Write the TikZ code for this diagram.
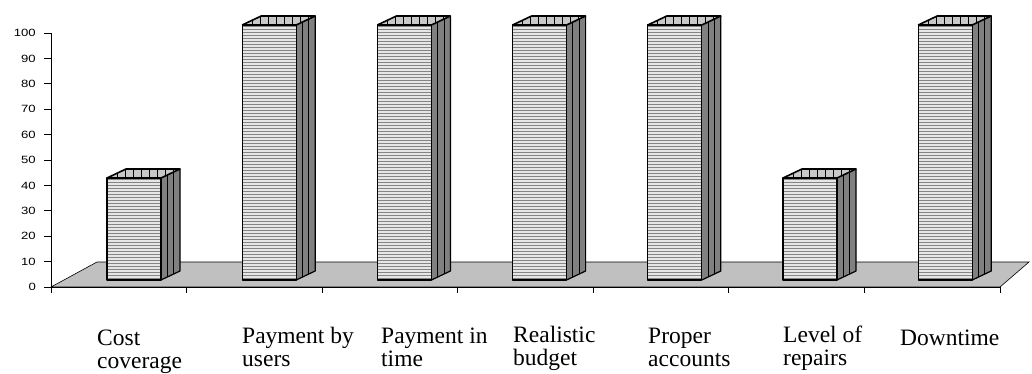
\documentclass[tikz,border=0pt]{standalone}
\usepackage{fontspec}
\setmainfont{Liberation Serif}
\newfontfamily\axisfont{Liberation Sans}
\definecolor{floorgray}{HTML}{C0C0C0}
\definecolor{sidegray}{HTML}{808080}
\definecolor{topgray}{HTML}{C8C8C8}
\definecolor{frontlight}{HTML}{E6E6E6}
\definecolor{stripegray}{HTML}{858585}
\newcommand\hstretch[1]{\scalebox{1.25}[1]{#1}}
\begin{document}
\begin{tikzpicture}[x=1pt,y=-1pt,
  tickline/.style={black, line width=0.8pt},
  ylab/.style={font=\axisfont\fontsize{10.5}{12}\selectfont, anchor=east, inner sep=0pt},
  catlab/.style={font=\fontsize{23.5}{22.5}\selectfont, align=left, anchor=base west, inner sep=0pt},
  baredge/.style={black, line width=1.2pt, line join=round},
  topedge/.style={black, line width=1.6pt, line join=round}]
\useasboundingbox (0,0) rectangle (1032,374);
% floor
\coordinate (fa) at (51,287);
\coordinate (fb) at (97,262);
\coordinate (fc) at (1029,262);
\coordinate (fd) at (1000,287);
\filldraw[fill=floorgray, draw=black, line width=0.6pt] (fa) -- (fb) -- (fc) -- (fd) -- cycle;
\draw[line width=1pt] (fa) -- (fd);
% y axis
\coordinate (ytop) at (51,33);
\draw[line width=0.8pt] (fa) -- (ytop);
\foreach \k in {0,...,10} {
  \pgfmathsetmacro\yy{287-25.4*\k}
  \draw[tickline] (44,\yy) -- (51,\yy);
  \node[ylab] (yl\k) at (36,\yy) {\hstretch{\the\numexpr\k*10\relax}};
}
% x ticks
\foreach \i in {0,...,7} {
  \pgfmathsetmacro\xx{51+135.57*\i}
  \draw[tickline] (\xx,287) -- (\xx,293);
}
% bars
\foreach \i/\v in {0/40,1/100,2/100,3/100,4/100,5/40,6/100} {
  \pgfmathsetmacro\xl{107+135.2*\i}
  \pgfmathsetmacro\xr{\xl+54}
  \pgfmathsetmacro\yt{280-2.55*\v}
  % front face
  \begin{scope}
    \clip (\xl,\yt) rectangle (\xr,280);
    \fill[frontlight] (\xl,\yt) rectangle (\xr,280);
    \foreach \s in {0,...,86} {
      \draw[stripegray, line width=1pt] (\xl,280-3*\s-1.5) -- (\xr,280-3*\s-1.5);
    }
  \end{scope}
  % side face
  \fill[sidegray] (\xr,280) -- (\xr+19,271) -- (\xr+19,\yt-9) -- (\xr,\yt) -- cycle;
  \draw[black, line width=0.9pt] (\xr+6.33,277) -- (\xr+6.33,\yt-3);
  \draw[black, line width=0.9pt] (\xr+12.67,274) -- (\xr+12.67,\yt-6);
  % top face
  \begin{scope}
    \clip (\xl,\yt) -- (\xl+19,\yt-9) -- (\xr+19,\yt-9) -- (\xr,\yt) -- cycle;
    \fill[topgray] (\xl,\yt) -- (\xl+19,\yt-9) -- (\xr+19,\yt-9) -- (\xr,\yt) -- cycle;
    \foreach \j in {0,...,9} {
      \draw[black, line width=1pt] (\xl+10+8*\j,\yt+1) -- (\xl+10+8*\j,\yt-10);
    }
  \end{scope}
  % outlines
  \draw[baredge] (\xl,\yt) rectangle (\xr,280);
  \draw[baredge] (\xr,280) -- (\xr+19,271) -- (\xr+19,\yt-9);
  \draw[topedge] (\xl,\yt) -- (\xl+19,\yt-9) -- (\xr+19,\yt-9) -- (\xr,\yt);
}
% category labels
\node[catlab] (c1) at (97,368) {Cost\\coverage};
\node[catlab] (c2) at (242,366) {Payment by\\users};
\node[catlab] (c3) at (381,366) {Payment in\\time};
\node[catlab] (c4) at (513,365) {Realistic\\budget};
\node[catlab] (c5) at (648,366) {Proper\\accounts};
\node[catlab] (c6) at (783,365) {Level of\\repairs};
\node[catlab] (c7) at (900,345) {Downtime};
\end{tikzpicture}
\end{document}
